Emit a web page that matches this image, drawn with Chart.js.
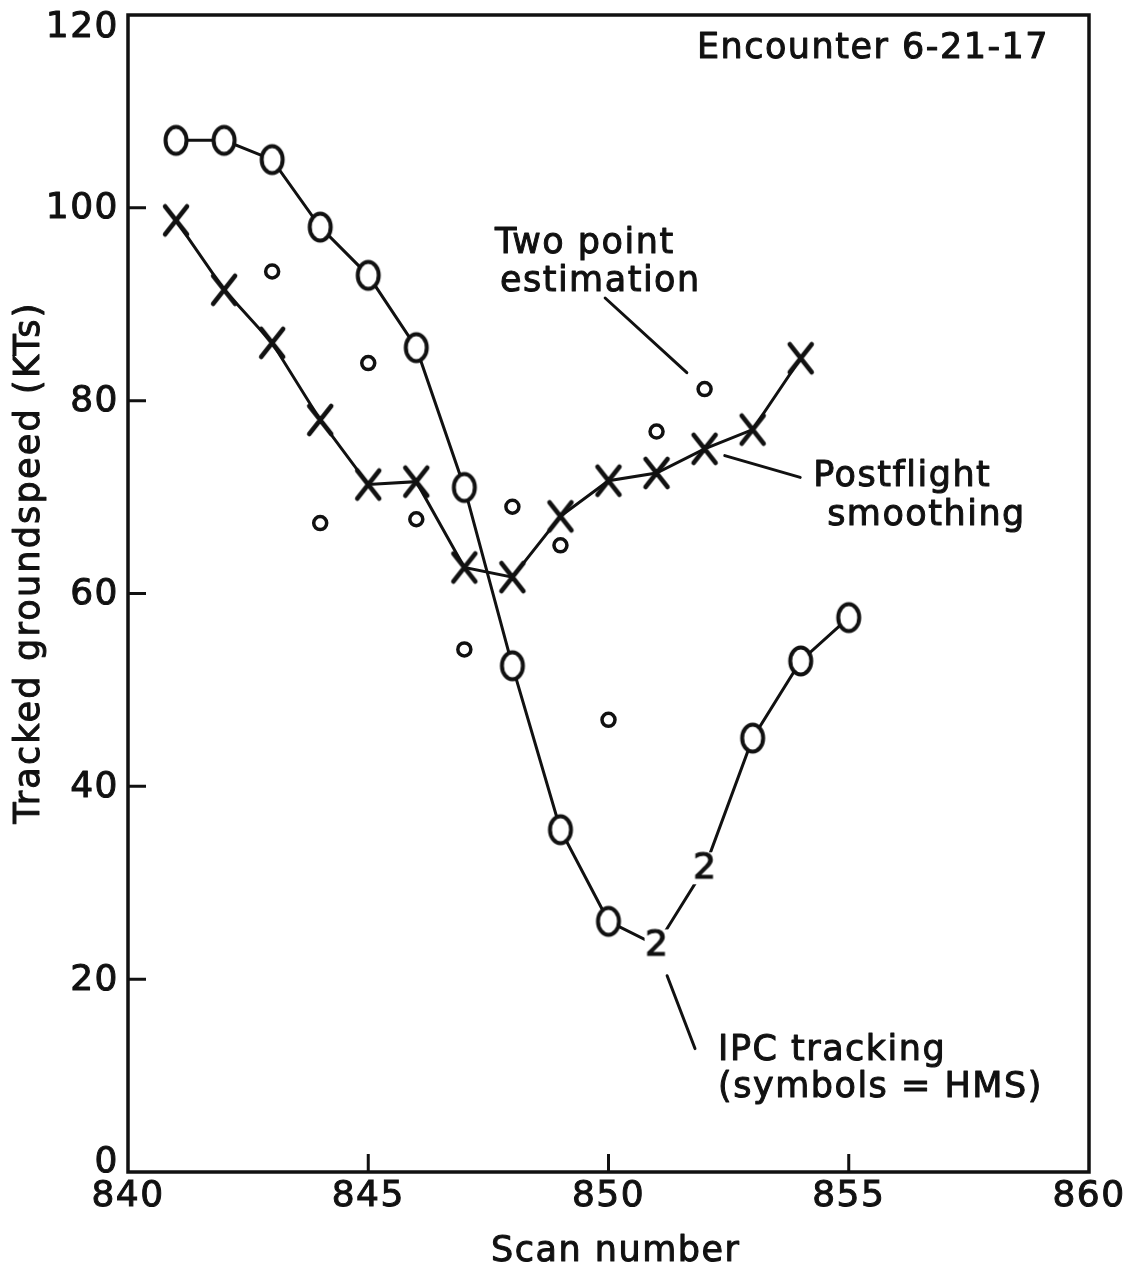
<!DOCTYPE html>
<html>
<head>
<meta charset="utf-8">
<script src="https://cdn.jsdelivr.net/npm/chart.js@4.4.1/dist/chart.umd.min.js"></script>
<style>
  html, body { margin: 0; padding: 0; background: #fff; }
  #wrap { width: 1140px; height: 1272px; }
</style>
</head>
<body>
<div id="wrap"><canvas id="speed-chart" width="1140" height="1272"></canvas></div>
<script>
/* ── DATA ── */
const ipcScans    = [841, 842, 843, 844, 845, 846, 847, 848, 849, 850, 851, 852, 853, 854, 855];
const ipcSpeeds   = [107, 107, 105, 98, 93, 85.5, 71, 52.5, 35.5, 26, 23.5, 31.5, 45, 53, 57.5];
const ipcSymbols  = ['O', 'O', 'O', 'O', 'O', 'O', 'O', 'O', 'O', 'O', '2', '2', 'O', 'O', 'O'];

const smoothScans  = [841, 842, 843, 844, 845, 846, 847, 848, 849, 850, 851, 852, 853, 854];
const smoothSpeeds = [98.7, 91.5, 86, 78, 71.3, 71.6, 62.7, 61.7, 68, 71.7, 72.5, 75, 77, 84.4];

const twoPtScans  = [843, 844, 845, 846, 847, 848, 849, 850, 851, 852];
const twoPtSpeeds = [93.4, 67.3, 83.9, 67.7, 54.2, 69, 65, 46.9, 76.8, 81.2];

const xTicks = [840, 845, 850, 855, 860];
const yTicks = [0, 20, 40, 60, 80, 100, 120];

const xTitle = 'Scan number';
const yTitle = 'Tracked groundspeed (KTs)';

// notes: text, left edge (scan), middle (kts)
const noteText = ['Encounter 6-21-17', 'Two point', 'estimation', 'Postflight', 'smoothing', 'IPC tracking', '(symbols = HMS)'];
const noteX    = [851.84, 847.64, 847.74, 854.26, 854.55, 852.28, 852.28];
const noteY    = [116.5, 96.3, 92.3, 72.1, 68.0, 12.6, 8.7];

// leader lines: [x1, y1, x2, y2] in data units
const leaders = [
  [849.93, 90.65, 851.63, 82.9],
  [852.42, 74.3, 853.99, 72.04],
  [851.22, 20.36, 851.8, 12.8],
];

/* ── STYLE ── */
const INK  = '#111';
const FONT = '"DejaVu Sans", sans-serif';
const SPACING = '1.5px';

const pts = (xs, ys) => xs.map((x, i) => ({ x, y: ys[i] }));

// hand-lettered look: fill, then a thin stroke to thicken
function inkText(ctx, text, x, y) {
  ctx.fillText(text, x, y);
  ctx.strokeText(text, x, y);
}

/* ── MARKER GLYPHS ── */
function makeSymbol(kind) {
  const c = document.createElement('canvas');
  c.width = 38; c.height = 40;
  const g = c.getContext('2d');
  g.strokeStyle = INK; g.lineWidth = 4; g.lineCap = 'round';
  if (kind === 'O') {
    g.fillStyle = '#fff';
    g.beginPath(); g.ellipse(19, 20, 10.5, 13.5, 0, 0, Math.PI * 2);
    g.fill(); g.stroke();
  } else if (kind === 'X') {
    g.lineWidth = 4.5;
    g.beginPath();
    g.moveTo(8, 6);  g.lineTo(30, 34);
    g.moveTo(30, 6); g.lineTo(8, 34);
    g.stroke();
  } else {
    g.fillStyle = '#fff'; g.fillRect(7, 4, 24, 32);
    g.fillStyle = INK; g.font = '36px ' + FONT;
    g.lineWidth = 1.2;
    g.textAlign = 'center'; g.textBaseline = 'middle';
    g.fillText(kind, 19, 21); g.strokeText(kind, 19, 21);
  }
  return c;
}
const GLYPH = { O: makeSymbol('O'), X: makeSymbol('X'), '2': makeSymbol('2') };

/* ── PAPER PLUGIN (frame, inward ticks, labels, notes) ── */
const paper = {
  id: 'paper',
  beforeUpdate(chart) { chart.ctx.letterSpacing = SPACING; },
  beforeDraw(chart) {
    const ctx = chart.ctx;
    ctx.letterSpacing = SPACING;
    ctx.save();
    ctx.fillStyle = '#fff';
    ctx.fillRect(0, 0, chart.width, chart.height);
    ctx.restore();
  },
  beforeDatasetsDraw(chart) {
    const { ctx, chartArea: a, scales: { x, y } } = chart;
    ctx.save();
    ctx.strokeStyle = INK; ctx.lineWidth = 3.5;
    ctx.strokeRect(a.left, a.top, a.right - a.left, a.bottom - a.top);
    ctx.lineWidth = 3;
    ctx.beginPath();
    yTicks.slice(1, -1).forEach(v => {
      const py = y.getPixelForValue(v);
      ctx.moveTo(a.left, py); ctx.lineTo(a.left + 18, py);
    });
    xTicks.slice(1, -1).forEach(v => {
      const px = x.getPixelForValue(v);
      ctx.moveTo(px, a.bottom); ctx.lineTo(px, a.bottom - 18);
    });
    ctx.stroke();

    // y tick labels (end labels tucked inside the frame like the original)
    ctx.fillStyle = INK; ctx.strokeStyle = INK; ctx.lineWidth = 1; ctx.lineJoin = 'round';
    ctx.font = '36px ' + FONT;
    ctx.textAlign = 'right'; ctx.textBaseline = 'middle';
    yTicks.forEach(v => {
      const py = Math.min(Math.max(y.getPixelForValue(v), a.top + 12), a.bottom - 10);
      inkText(ctx, String(v), a.left - 9, py + 1);
    });

    // axis titles
    ctx.font = '35px ' + FONT;
    ctx.textAlign = 'center';
    inkText(ctx, xTitle, x.getPixelForValue(850.15), a.bottom + 80);
    ctx.save();
    ctx.letterSpacing = '2.2px';
    ctx.translate(30, y.getPixelForValue(63.2));
    ctx.rotate(-Math.PI / 2);
    inkText(ctx, yTitle, 0, 0);
    ctx.restore();
    ctx.restore();
  },
  afterDatasetsDraw(chart) {
    const { ctx, scales: { x, y } } = chart;
    ctx.save();
    ctx.strokeStyle = INK; ctx.lineWidth = 3; ctx.lineCap = 'round';
    ctx.beginPath();
    leaders.forEach(([x1, y1, x2, y2]) => {
      ctx.moveTo(x.getPixelForValue(x1), y.getPixelForValue(y1));
      ctx.lineTo(x.getPixelForValue(x2), y.getPixelForValue(y2));
    });
    ctx.stroke();
    ctx.fillStyle = INK; ctx.lineWidth = 1; ctx.lineJoin = 'round';
    ctx.font = '35px ' + FONT;
    ctx.textAlign = 'left'; ctx.textBaseline = 'middle';
    noteText.forEach((t, i) => {
      inkText(ctx, t, x.getPixelForValue(noteX[i]), y.getPixelForValue(noteY[i]));
    });
    ctx.restore();
  }
};

/* ── CHART ── */
new Chart(document.getElementById('speed-chart'), {
  type: 'scatter',
  data: {
    datasets: [
      {
        label: 'IPC tracking',
        data: pts(ipcScans, ipcSpeeds),
        showLine: true, tension: 0,
        borderColor: INK, borderWidth: 3,
        pointStyle: ipcSymbols.map(s => GLYPH[s]),
        pointRadius: 12,
      },
      {
        label: 'Postflight smoothing',
        data: pts(smoothScans, smoothSpeeds),
        showLine: true, tension: 0,
        borderColor: INK, borderWidth: 3,
        pointStyle: GLYPH.X,
        pointRadius: 12,
      },
      {
        label: 'Two point estimation',
        data: pts(twoPtScans, twoPtSpeeds),
        showLine: false,
        pointStyle: 'circle',
        pointRadius: 6.5,
        borderColor: INK, borderWidth: 3.5,
        backgroundColor: '#fff',
      },
    ]
  },
  options: {
    responsive: false,
    animation: false,
    events: [],
    devicePixelRatio: 1,
    layout: { padding: { left: 0, top: 11, right: 51, bottom: 0 } },
    plugins: { legend: { display: false }, tooltip: { enabled: false } },
    scales: {
      x: {
        type: 'linear', min: 840, max: 860,
        afterBuildTicks: s => { s.ticks = xTicks.map(value => ({ value })); },
        afterFit: s => { s.height = 100; s.paddingLeft = 0; s.paddingRight = 0; },
        grid: { display: false, drawTicks: false },
        border: { display: false },
        ticks: {
          color: INK, font: { family: FONT, size: 36, lineHeight: 1 },
          padding: 7, maxRotation: 0, autoSkip: false,
          textStrokeColor: INK, textStrokeWidth: 1
        },
      },
      y: {
        type: 'linear', min: 0, max: 120,
        afterBuildTicks: s => { s.ticks = yTicks.map(value => ({ value })); },
        afterFit: s => { s.width = 128; s.paddingTop = 0; s.paddingBottom = 0; },
        grid: { display: false, drawTicks: false },
        border: { display: false },
        ticks: { display: false },
      }
    }
  },
  plugins: [paper]
});
</script>
</body>
</html>
